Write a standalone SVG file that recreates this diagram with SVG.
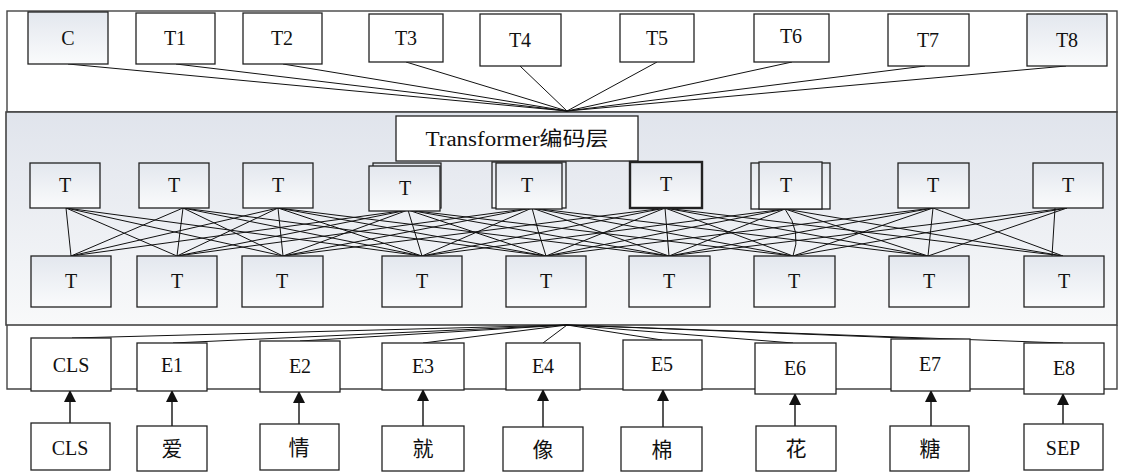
<svg xmlns="http://www.w3.org/2000/svg" width="1121" height="474" viewBox="0 0 1121 474">
  <defs>
    <linearGradient id="gBand" x1="0" y1="0" x2="0" y2="1">
      <stop offset="0" stop-color="#e0e4ec"/>
      <stop offset="1" stop-color="#f8f9fa"/>
    </linearGradient>
    <linearGradient id="gBox" x1="0" y1="0" x2="0" y2="1">
      <stop offset="0" stop-color="#e3e7ee"/>
      <stop offset="1" stop-color="#fafbfc"/>
    </linearGradient>
    <marker id="arrow" viewBox="0 0 12 12" refX="11" refY="6" markerWidth="12" markerHeight="12" markerUnits="userSpaceOnUse" orient="auto">
      <path d="M0,0 L12,6 L0,12 Z" fill="#111"/>
    </marker>
  </defs>
  <style>
    .frame { fill: #fff; stroke: #444; stroke-width: 1.4; }
    .band { fill: url(#gBand); stroke: #444; stroke-width: 1.6; }
    .box { fill: #fff; stroke: #222; stroke-width: 1.3; }
    .gbox { fill: url(#gBox); stroke: #222; stroke-width: 1.3; }
    .thick { stroke-width: 2.4; }
    text { font-family: "Liberation Serif", "Times New Roman", "DejaVu Serif", "Noto Sans CJK SC", serif; font-size: 20px; fill: #111; text-anchor: middle; }
    .cjk { font-size: 21px; }
    .wire { stroke: #111; stroke-width: 1; fill: none; }
    .arr { stroke: #111; stroke-width: 1.4; fill: none; }
  </style>

  <!-- layer frames -->
  <rect class="frame" x="7" y="11" width="1110" height="101"/>
  <path d="M7,325 V389 H1117 V325" fill="none" stroke="#444" stroke-width="1.4"/>
  <rect class="band" x="6" y="112" width="1111" height="213"/>

  <!-- connectors -->
  <g id="connectors">
    <!-- output tokens gather at the top of the encoder -->
    <g id="out-links">
      <line class="wire" x1="68" y1="64" x2="567" y2="111"/>
      <line class="wire" x1="176" y1="64" x2="567" y2="111"/>
      <line class="wire" x1="283" y1="64" x2="567" y2="111"/>
      <line class="wire" x1="406" y1="62" x2="567" y2="111"/>
      <line class="wire" x1="520" y1="66" x2="567" y2="111"/>
      <line class="wire" x1="657" y1="62" x2="567" y2="111"/>
      <line class="wire" x1="792" y1="62" x2="567" y2="111"/>
      <line class="wire" x1="925" y1="66" x2="567" y2="111"/>
      <line class="wire" x1="1066" y1="66" x2="567" y2="111"/>
    </g>
    <!-- embeddings fan out from the bottom of the encoder -->
    <g id="in-links">
      <line class="wire" x1="567" y1="325" x2="72" y2="338"/>
      <line class="wire" x1="567" y1="325" x2="173" y2="343"/>
      <line class="wire" x1="567" y1="325" x2="300" y2="341"/>
      <line class="wire" x1="567" y1="325" x2="423" y2="343"/>
      <line class="wire" x1="567" y1="325" x2="543" y2="343"/>
      <line class="wire" x1="567" y1="325" x2="662" y2="340"/>
      <line class="wire" x1="567" y1="325" x2="793" y2="343"/>
      <line class="wire" x1="567" y1="325" x2="930" y2="339"/>
      <line class="wire" x1="567" y1="325" x2="1063" y2="343"/>
    </g>
    <!-- attention links between the two T rows (each node reaches three neighbours per side) -->
    <g id="attn-links">
      <path class="wire" d="
        M66,208 L71,256 M66,208 L177,256 M66,208 L283,256 M66,208 L422,256
        M183,208 L71,256 M183,208 L177,256 M183,208 L283,256 M183,208 L422,256 M183,208 L546,256
        M278,208 L71,256 M278,208 L177,256 M278,208 L283,256 M278,208 L422,256 M278,208 L546,256 M278,208 L669,256
        M408,210 L71,256 M408,210 L177,256 M408,210 L283,256 M408,210 L422,256 M408,210 L546,256 M408,210 L669,256 M408,210 L793,256
        M532,208 L177,256 M532,208 L283,256 M532,208 L422,256 M532,208 Q538,232 546,256 M532,208 L669,256 M532,208 L793,256 M532,208 L928,256
        M665,208 L283,256 M665,208 L422,256 M665,208 L546,256 M665,208 L669,256 M665,208 L793,256 M665,208 L928,256 M665,208 L1063,256
        M785,209 L422,256 M785,209 L546,256 M785,209 L669,256 M785,209 Q802,232 793,256 M785,209 L928,256 M785,209 L1063,256
        M933,208 L546,256 M933,208 L669,256 M933,208 L793,256 M933,208 L928,256 M933,208 L1063,256
        M1067,208 L669,256 M1067,208 L793,256 M1067,208 L928,256 M1055,208 L1052,256"/>
    </g>
    <!-- token to embedding arrows -->
    <g id="embed-arrows">
      <line class="arr" x1="70" y1="423" x2="70" y2="391" marker-end="url(#arrow)"/>
      <line class="arr" x1="172" y1="426" x2="172" y2="391" marker-end="url(#arrow)"/>
      <line class="arr" x1="299" y1="424" x2="299" y2="392" marker-end="url(#arrow)"/>
      <line class="arr" x1="423" y1="426" x2="423" y2="390" marker-end="url(#arrow)"/>
      <line class="arr" x1="543" y1="427" x2="543" y2="390" marker-end="url(#arrow)"/>
      <line class="arr" x1="663" y1="427" x2="663" y2="390" marker-end="url(#arrow)"/>
      <line class="arr" x1="795" y1="426" x2="795" y2="394" marker-end="url(#arrow)"/>
      <line class="arr" x1="931" y1="426" x2="931" y2="391" marker-end="url(#arrow)"/>
      <line class="arr" x1="1063" y1="424" x2="1063" y2="394" marker-end="url(#arrow)"/>
    </g>
  </g>

  <!-- output row -->
  <g id="out-C"><rect class="gbox" x="28" y="12" width="80" height="52"/><text x="68" y="45">C</text></g>
  <g id="out-T1"><rect class="box" x="136" y="13" width="79" height="51"/><text x="175" y="45">T1</text></g>
  <g id="out-T2"><rect class="box" x="243" y="13" width="79" height="51"/><text x="282" y="45">T2</text></g>
  <g id="out-T3"><rect class="box" x="369" y="14" width="74" height="48"/><text x="406" y="45">T3</text></g>
  <g id="out-T4"><rect class="box" x="480" y="14" width="81" height="52"/><text x="520" y="47">T4</text></g>
  <g id="out-T5"><rect class="box" x="620" y="14" width="74" height="48"/><text x="657" y="45">T5</text></g>
  <g id="out-T6"><rect class="box" x="754" y="14" width="75" height="48"/><text x="791" y="43">T6</text></g>
  <g id="out-T7"><rect class="box" x="888" y="14" width="81" height="52"/><text x="928" y="47">T7</text></g>
  <g id="out-T8"><rect class="gbox" x="1027" y="14" width="80" height="52"/><text x="1067" y="47">T8</text></g>

  <!-- encoder title -->
  <g id="encoder-title">
    <rect class="box" x="396" y="116" width="242" height="45"/>
    <text x="517" y="146" textLength="183" lengthAdjust="spacingAndGlyphs">Transformer编码层</text>
  </g>

  <!-- upper T row -->
  <g id="up-1"><rect class="gbox" x="30" y="163" width="70" height="45"/><text x="65" y="192">T</text></g>
  <g id="up-2"><rect class="gbox" x="139" y="163" width="70" height="45"/><text x="174" y="192">T</text></g>
  <g id="up-3"><rect class="gbox" x="243" y="163" width="70" height="45"/><text x="278" y="192">T</text></g>
  <g id="up-4">
    <rect class="gbox" x="373" y="163" width="68" height="45"/>
    <rect class="gbox" x="369" y="166" width="71" height="45"/>
    <text x="405" y="195">T</text>
  </g>
  <g id="up-5">
    <rect class="gbox" x="492" y="162" width="74" height="46"/>
    <rect class="gbox" x="496" y="163" width="66" height="46"/>
    <text x="527" y="192">T</text>
  </g>
  <g id="up-6"><rect class="gbox thick" x="630" y="162" width="72" height="46"/><text x="666" y="191">T</text></g>
  <g id="up-7">
    <rect class="gbox" x="751" y="163" width="79" height="46"/>
    <rect class="gbox" x="759" y="162" width="63" height="47"/>
    <text x="786" y="192">T</text>
  </g>
  <g id="up-8"><rect class="gbox" x="898" y="163" width="71" height="45"/><text x="933" y="192">T</text></g>
  <g id="up-9"><rect class="gbox" x="1033" y="163" width="70" height="45"/><text x="1068" y="192">T</text></g>

  <!-- lower T row -->
  <g id="low-1"><rect class="gbox" x="31" y="256" width="80" height="51"/><text x="71" y="288">T</text></g>
  <g id="low-2"><rect class="gbox" x="137" y="256" width="80" height="51"/><text x="177" y="288">T</text></g>
  <g id="low-3"><rect class="gbox" x="242" y="256" width="81" height="51"/><text x="282" y="288">T</text></g>
  <g id="low-4"><rect class="gbox" x="382" y="256" width="80" height="51"/><text x="422" y="288">T</text></g>
  <g id="low-5"><rect class="gbox" x="506" y="256" width="80" height="51"/><text x="546" y="288">T</text></g>
  <g id="low-6"><rect class="gbox" x="629" y="256" width="81" height="51"/><text x="669" y="288">T</text></g>
  <g id="low-7"><rect class="gbox" x="754" y="256" width="81" height="51"/><text x="794" y="288">T</text></g>
  <g id="low-8"><rect class="gbox" x="889" y="256" width="80" height="51"/><text x="929" y="288">T</text></g>
  <g id="low-9"><rect class="gbox" x="1024" y="256" width="80" height="51"/><text x="1064" y="288">T</text></g>

  <!-- embedding row -->
  <g id="emb-CLS"><rect class="box" x="31" y="338" width="80" height="53"/><text x="71" y="372">CLS</text></g>
  <g id="emb-E1"><rect class="box" x="137" y="343" width="70" height="48"/><text x="172" y="372">E1</text></g>
  <g id="emb-E2"><rect class="box" x="260" y="341" width="80" height="51"/><text x="300" y="373">E2</text></g>
  <g id="emb-E3"><rect class="box" x="382" y="343" width="82" height="47"/><text x="423" y="373">E3</text></g>
  <g id="emb-E4"><rect class="box" x="506" y="343" width="74" height="47"/><text x="543" y="373">E4</text></g>
  <g id="emb-E5"><rect class="box" x="623" y="340" width="79" height="50"/><text x="662" y="371">E5</text></g>
  <g id="emb-E6"><rect class="box" x="755" y="343" width="81" height="51"/><text x="795" y="375">E6</text></g>
  <g id="emb-E7"><rect class="box" x="891" y="339" width="79" height="52"/><text x="930" y="371">E7</text></g>
  <g id="emb-E8"><rect class="box" x="1024" y="343" width="80" height="51"/><text x="1064" y="375">E8</text></g>

  <!-- input tokens -->
  <g id="tok-CLS"><rect class="box" x="31" y="423" width="79" height="47"/><text x="70" y="455">CLS</text></g>
  <g id="tok-1"><rect class="box" x="137" y="426" width="70" height="45"/><text class="cjk" x="172" y="456">爱</text></g>
  <g id="tok-2"><rect class="box" x="260" y="424" width="79" height="46"/><text class="cjk" x="299" y="455">情</text></g>
  <g id="tok-3"><rect class="box" x="382" y="426" width="82" height="45"/><text class="cjk" x="423" y="456">就</text></g>
  <g id="tok-4"><rect class="box" x="503" y="427" width="80" height="44"/><text class="cjk" x="543" y="457">像</text></g>
  <g id="tok-5"><rect class="box" x="621" y="427" width="81" height="44"/><text class="cjk" x="662" y="457">棉</text></g>
  <g id="tok-6"><rect class="box" x="756" y="426" width="80" height="45"/><text class="cjk" x="796" y="456">花</text></g>
  <g id="tok-7"><rect class="box" x="890" y="426" width="79" height="45"/><text class="cjk" x="930" y="456">糖</text></g>
  <g id="tok-SEP"><rect class="box" x="1024" y="424" width="79" height="46"/><text x="1063" y="455">SEP</text></g>
</svg>
